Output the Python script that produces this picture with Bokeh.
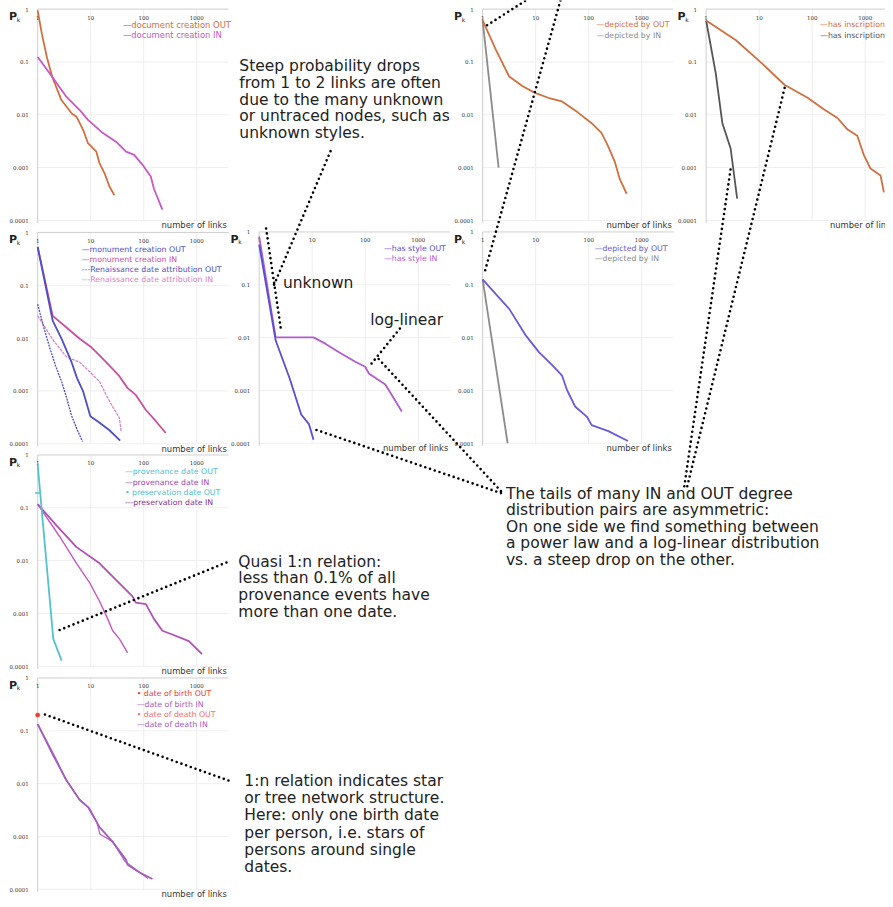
import numpy as np
from bokeh.plotting import figure
from bokeh.models import Range1d
from bokeh.core.properties import value
from bokeh.embed import file_html
from bokeh.resources import INLINE

# ---------------- data (k = number of links, p = P_k) ----------------
XT = [1, 10, 100, 1000]
XT_LABELS = ["1", "10", "100", "1000"]
YT = [1, 0.1, 0.01, 0.001, 0.0001]
YT_LABELS = ["1", "0.1", "0.01", "0.001", "0.0001"]

# document creation
doc_out_k = [1, 1.2, 1.5, 1.9, 2.8, 4.4, 5.4, 7.2, 8.9, 12.8, 14.7, 18.3, 22.6, 28]
doc_out_p = [0.95, 0.34, 0.12, 0.051, 0.019, 0.0106, 0.0092, 0.0052, 0.0029, 0.002, 0.0012, 0.00078, 0.00044, 0.0003]
doc_in_k = [1, 1.92, 3.5, 6.2, 8.9, 17, 30, 46.5, 66, 95, 136, 157, 225]
doc_in_p = [0.124, 0.051, 0.0218, 0.0123, 0.008, 0.0045, 0.0031, 0.002, 0.00174, 0.00113, 0.00068, 0.00039, 0.00016]

# monument creation / Renaissance date attribution
mon_out_k = [1, 1.92, 2.83, 4.36, 5.55, 7.2, 8.55, 9.85, 14.7, 22.6, 36]
mon_out_p = [0.53, 0.0214, 0.0097, 0.0035, 0.00173, 0.00098, 0.00054, 0.00033, 0.00025, 0.00018, 0.000115]
mon_in_k = [1, 1.92, 3.5, 6.2, 10.3, 14.7, 22.6, 34.8, 49.7, 71, 109, 168, 260]
mon_in_p = [0.53, 0.0264, 0.0159, 0.0097, 0.0067, 0.0047, 0.003, 0.0019, 0.00113, 0.00084, 0.00044, 0.00027, 0.00016]
ren_out_k = [1, 1.3, 1.71, 2.2, 2.83, 3.5, 4.36, 5.5, 7]
ren_out_p = [0.044, 0.016, 0.0063, 0.0029, 0.0015, 0.00075, 0.00034, 0.00019, 0.00011]
ren_in_k = [1, 1.97, 3.5, 6.2, 9.6, 14.7, 19.6, 26, 34.8, 37.5]
ren_in_p = [0.0264, 0.0091, 0.0044, 0.0035, 0.0023, 0.0015, 0.00084, 0.0005, 0.00031, 0.00017]

# provenance / preservation date
prov_out_k = [1, 1.97, 2.83]
prov_out_p = [0.66, 0.00033, 0.000128]
pres_out_k = [1]
pres_out_p = [0.19]
prov_in_k = [1, 2.28, 5.4, 14.7, 30, 61.5, 71, 110, 157, 225, 346, 710, 1260]
prov_in_p = [0.117, 0.046, 0.018, 0.0089, 0.0043, 0.0021, 0.0016, 0.0015, 0.00078, 0.00047, 0.0004, 0.0003, 0.00017]
pres_in_k = [1, 2.63, 5.4, 9.6, 14.7, 21, 26, 34.8, 49.7]
pres_in_p = [0.117, 0.028, 0.0089, 0.0038, 0.0017, 0.00078, 0.00047, 0.00033, 0.00018]

# date of birth / death
birth_out_k = [1]
birth_out_p = [0.2]
death_out_k = [1]
death_out_p = [0.2]
birth_in_k = [1, 1.97, 3.5, 6.2, 8.9, 14.7, 26, 46.5, 49.7, 82, 146]
birth_in_p = [0.134, 0.034, 0.0116, 0.0049, 0.0036, 0.0015, 0.00079, 0.00036, 0.00029, 0.00021, 0.000157]
death_in_k = [1, 2.2, 3.3, 6, 9.5, 13, 15, 26, 44, 60, 120]
death_in_p = [0.134, 0.03, 0.0125, 0.0052, 0.0034, 0.0019, 0.0011, 0.0008, 0.00034, 0.00027, 0.00016]

# has style
style_out_k = [1, 2.05, 3.75, 6.2, 8.7, 10.6]
style_out_p = [0.575, 0.0088, 0.0017, 0.00035, 0.00023, 0.000117]
style_in_k = [1, 2.05, 10.6, 18, 32, 65, 100, 117, 240, 315, 490]
style_in_p = [0.82, 0.0101, 0.0101, 0.0076, 0.0053, 0.0035, 0.0028, 0.0021, 0.0013, 0.00083, 0.0004]

# depicted by (second row, blue)
dep2_out_k = [1, 1.79, 3.17, 6.5, 11.5, 20.5, 31.5, 39, 56, 92, 114, 235, 550]
dep2_out_p = [0.127, 0.066, 0.035, 0.011, 0.0053, 0.003, 0.0019, 0.00102, 0.00049, 0.00032, 0.00022, 0.00017, 0.00011]
dep2_in_k = [1, 2.96]
dep2_in_p = [0.127, 0.0001]

# depicted by (first row, orange)
dep1_out_k = [1, 1.79, 3.17, 5.6, 9.7, 17.3, 31, 63, 112, 173, 230, 310, 385, 520]
dep1_out_p = [0.61, 0.168, 0.053, 0.035, 0.026, 0.021, 0.018, 0.011, 0.007, 0.0046, 0.0026, 0.0013, 0.00061, 0.00032]
dep1_in_k = [1, 2]
dep1_in_p = [0.61, 0.001]

# has inscription
ins_out_k = [1, 3.6, 11.3, 30, 82, 168, 300, 460, 710, 950, 1260, 1950, 2250]
ins_out_p = [0.61, 0.26, 0.094, 0.037, 0.021, 0.0126, 0.0087, 0.0053, 0.004, 0.0017, 0.00096, 0.00071, 0.00034]
ins_in_k = [1, 1.52, 2.02, 2.9, 3.85]
ins_in_p = [0.61, 0.061, 0.007, 0.0023, 0.00026]

# ---------------- figure ----------------
W, H = 885, 899
p = figure(width=W, height=H, x_range=Range1d(0, 893), y_range=Range1d(907, 0),
           output_backend="svg", toolbar_location=None, min_border=0,
           x_axis_location=None, y_axis_location=None)
p.grid.visible = False
p.outline_line_color = None
p.background_fill_color = "white"

DX, DY = 53.5, 53.3
LKMAX = 3.6  # right end of each small panel, in decades
SANS = value("DejaVu Sans")
SERIF = value("DejaVu Serif")
L = np.log10

ORANGE = "#d0703e"
MAGENTA = "#c659c4"
PINK = "#c8509e"
LPINK = "#d884c4"
BLUE = "#4f4fc4"
CYAN = "#52c2d2"
PURPLE = "#a35bbd"
RED = "#ec3b2e"
GRAY = "#8c8c8c"
DGRAY = "#555555"


class Panel:
    """A small log-log panel: the library maps log10 values onto the panel's box."""

    def __init__(self, x1, y1):
        self.sp = p.subplot(x_source=Range1d(0, 3), y_source=Range1d(0, -4),
                            x_target=Range1d(x1, x1 + 3 * DX), y_target=Range1d(y1, y1 + 4 * DY))
        sp = self.sp
        lx = L(XT)
        ly = L(YT)
        sp.segment(x0=lx[1:], y0=[0] * 3, x1=lx[1:], y1=[-4] * 3, line_color="#ededed", line_width=1)
        sp.segment(x0=[0] * 4, y0=ly[1:], x1=[LKMAX] * 4, y1=ly[1:], line_color="#efefef", line_width=1)
        sp.segment(x0=[0, 0], y0=[0, 0], x1=[LKMAX, 0], y1=[0, -4.05], line_color="#cfcfcf", line_width=1)
        sp.text(x=lx, y=[0] * 4, text=XT_LABELS, y_offset=8, text_align="center", text_baseline="middle",
                text_font=SERIF, text_font_size=value("5.5px"), text_color="#333333")
        sp.text(x=[0] * 5, y=ly, text=YT_LABELS, x_offset=-9, text_align="right", text_baseline="middle",
                text_font=SERIF, text_font_size=value("5.5px"), text_color="#333333")
        p.text(x=[x1 - 29], y=[y1 + 7.5], text=["P"], text_font=SANS, text_font_style="bold",
               text_font_size=value("11px"), text_baseline="middle", text_color="#222222")
        p.text(x=[x1 - 21], y=[y1 + 10], text=["k"], text_font=SANS,
               text_font_size=value("6px"), text_baseline="middle", text_color="#222222")
        p.text(x=[x1 + 125], y=[y1 + 4 * DY + 5], text=["number of links"], text_font=SANS,
               text_font_size=value("8.4px"), text_baseline="middle", text_color="#333333")
        self.x1, self.y1 = x1, y1

    def line(self, k, pk, **kw):
        self.sp.line(L(k), L(pk), **kw)

    def scatter(self, k, pk, **kw):
        self.sp.scatter(L(k), L(pk), **kw)

    def legend(self, lx, dy0, items, size="7.8px"):
        for i, (txt, col) in enumerate(items):
            p.text(x=[self.x1 + lx], y=[self.y1 + dy0 + 10.3 * i], text=[txt], text_font=SANS,
                   text_font_size=value(size), text_baseline="middle", text_color=col)


# Panel A: document creation
pa = Panel(37.5, 8.7)
pa.line(doc_out_k, doc_out_p, line_color=ORANGE, line_width=1.8)
pa.line(doc_in_k, doc_in_p, line_color=MAGENTA, line_width=1.8)
pa.legend(86, 16, [("\u2014document creation OUT", ORANGE), ("\u2014document creation IN", MAGENTA)], size="8.4px")

# Panel B: monument creation
pb = Panel(37.5, 234)
pb.line(mon_in_k, mon_in_p, line_color=PINK, line_width=1.8)
pb.line(ren_in_k, ren_in_p, line_color=LPINK, line_width=1.3, line_dash="3 1")
pb.line(mon_out_k, mon_out_p, line_color=BLUE, line_width=1.8)
pb.line(ren_out_k, ren_out_p, line_color=BLUE, line_width=1.3, line_dash="2 1")
pb.legend(44.5, 17, [("\u2014monument creation OUT", BLUE), ("\u2014monument creation IN", PINK),
                     ("---Renaissance date attribution OUT", BLUE),
                     ("---Renaissance date attribution IN", LPINK)])

# Panel C: provenance
pc = Panel(37.5, 458.5)
pc.line(pres_in_k, pres_in_p, line_color=MAGENTA, line_width=1.4)
pc.line(prov_in_k, prov_in_p, line_color="#b24fb6", line_width=1.8)
pc.line(prov_out_k, prov_out_p, line_color=CYAN, line_width=1.8)
pc.scatter(pres_out_k, pres_out_p, marker="dash", size=5, line_color=CYAN, line_width=1.5)
pc.legend(88, 17, [("\u2014provenance date OUT", CYAN), ("\u2014provenance date IN", "#a63fae"),
                   ("\u2022 preservation date OUT", CYAN), ("---preservation date IN", "#8a2f8e")])

# Panel D: date of birth / death
pd_ = Panel(37.5, 683.5)
pd_.line(death_in_k, death_in_p, line_color="#b56ac0", line_width=1.3)
pd_.line(birth_in_k, birth_in_p, line_color=PURPLE, line_width=1.8)
pd_.scatter(death_out_k, death_out_p, marker="circle", size=5, fill_color="#f28a80", line_color=None)
pd_.scatter(birth_out_k, birth_out_p, marker="circle", size=4, fill_color=RED, line_color=None)
pd_.legend(100, 16, [("\u2022 date of birth OUT", RED), ("\u2014date of birth IN", PURPLE),
                     ("\u2022 date of death OUT", "#f0706a"), ("\u2014date of death IN", PURPLE)])

# Panel E: has style
pe = Panel(261, 233.5)
pe.line(style_in_k, style_in_p, line_color="#b25ccf", line_width=1.8)
pe.line(style_out_k, style_out_p, line_color="#5a4fd0", line_width=1.8)
pe.legend(126, 17, [("\u2014has style OUT", "#5a4fd0"), ("\u2014has style IN", "#b25ccf")])

# Panel F: depicted by (blue)
pf = Panel(486.5, 233.5)
pf.line(dep2_in_k, dep2_in_p, line_color=GRAY, line_width=1.8)
pf.line(dep2_out_k, dep2_out_p, line_color="#6a5ad4", line_width=1.8)
pf.legend(113, 17, [("\u2014depicted by OUT", "#6a5ad4"), ("\u2014depicted by IN", GRAY)])

# Panel G: depicted by (orange)
pg = Panel(486.5, 8.7)
pg.line(dep1_in_k, dep1_in_p, line_color=GRAY, line_width=1.8)
pg.line(dep1_out_k, dep1_out_p, line_color=ORANGE, line_width=1.8)
pg.legend(115, 16, [("\u2014depicted by OUT", ORANGE), ("\u2014depicted by IN", GRAY)])

# Panel H: has inscription
ph = Panel(712, 8.7)
ph.line(ins_in_k, ins_in_p, line_color=DGRAY, line_width=1.8)
ph.line(ins_out_k, ins_out_p, line_color=ORANGE, line_width=1.8)
ph.legend(115, 16, [("\u2014has inscription OUT", ORANGE), ("\u2014has inscription IN", DGRAY)])

# ---------------- annotations ----------------
dotted = [
    ((333, 152), (276, 287)),
    ((268, 230), (283, 332)),
    ((403, 331), (373, 368)),
    ((505, 495), (380, 360)),
    ((505, 497), (318, 433)),
    ((690, 490), (737, 168)),
    ((693, 490), (792, 85)),
    ((565, 0), (488, 276)),
    ((491, 25), (530, 0)),
    ((228, 567), (55, 637)),
    ((230, 787), (41, 719)),
]
for (a, b) in dotted:
    p.line([a[0], b[0]], [a[1], b[1]], line_color="black", line_width=2.6, line_dash="0 5", line_cap="round")

TXT = "#222222"


def block(x, y0, lines, size="15.5px", step=17):
    p.text(x=[x] * len(lines), y=[y0 + step * i for i in range(len(lines))], text=lines,
           text_font=SANS, text_font_size=value(size), text_baseline="middle", text_color=TXT)


block(241, 66, ["Steep probability drops", "from 1 to 2 links are often", "due to the many unknown",
                "or untraced nodes, such as", "unknown styles."])
block(285, 285, ["unknown"])
block(373, 322, ["log-linear"])
block(510, 498, ["The tails of many IN and OUT degree", "distribution pairs are asymmetric:",
                 "On one side we find something between", "a power law and a log-linear distribution",
                 "vs. a steep drop on the other."], step=16.5)
block(240, 566, ["Quasi 1:n relation:", "less than 0.1% of all", "provenance events have",
                 "more than one date."])
block(246, 787, ["1:n relation indicates star", "or tree network structure.", "Here: only one birth date",
                 "per person, i.e. stars of", "persons around single", "dates."], step=17.5)

open("out.html", "w").write(file_html(p, INLINE))
